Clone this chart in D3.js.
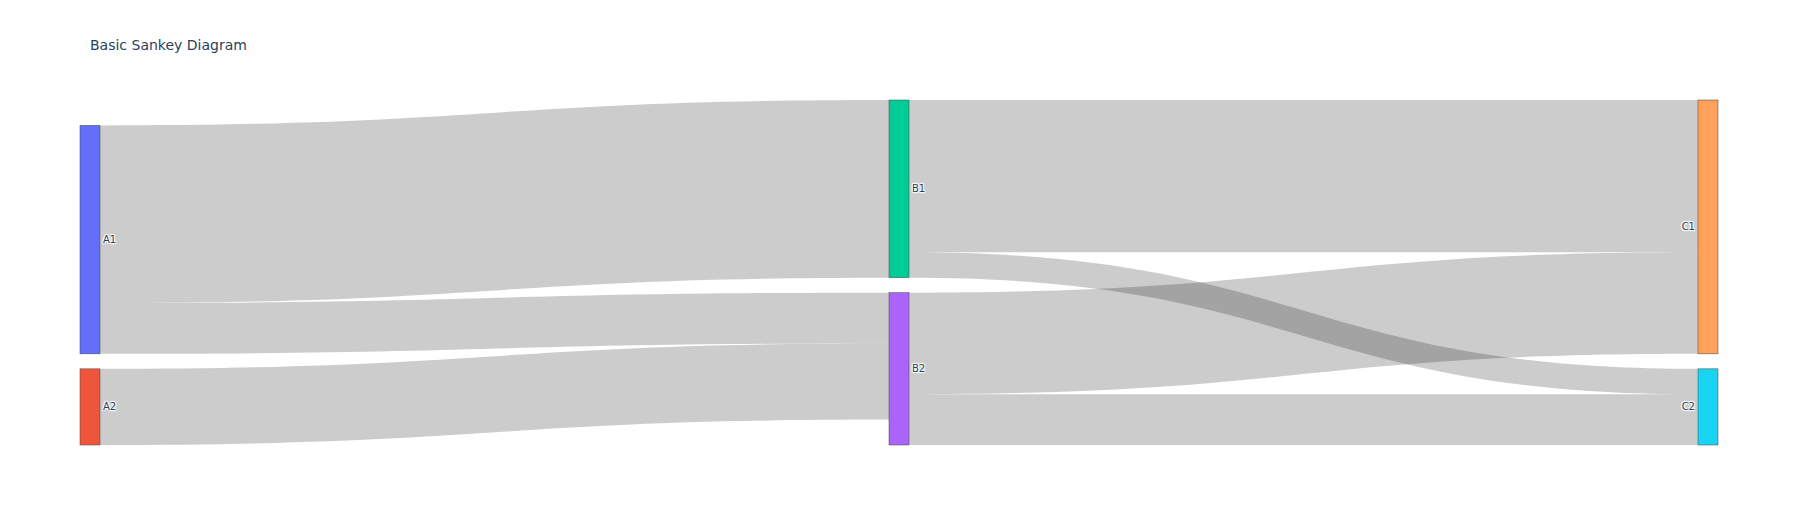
<!DOCTYPE html>
<html>
<head>
<meta charset="utf-8">
<script src="https://cdn.jsdelivr.net/npm/d3@7"></script>
<style>
  html, body { margin: 0; padding: 0; background: #fff; }
  svg text.node-label {
    text-shadow: 1px 1px 1px #fff, -1px -1px 1px #fff, 1px -1px 1px #fff, -1px 1px 1px #fff;
  }
</style>
</head>
<body>
<div id="chart"></div>
<script>
// ---- data ----
const title = "Basic Sankey Diagram";
const nodeNames = ["A1", "A2", "B1", "B2", "C1", "C2"];
const nodeColors = ["#636efa", "#EF553B", "#00cc96", "#ab63fa", "#FFA15A", "#19d3f3"];
const linkSources = ["A1", "A1", "A2", "B1", "B1", "B2", "B2"];
const linkTargets = ["B1", "B2", "B2", "C1", "C2", "C1", "C2"];
const linkValues = [7, 2, 3, 6, 1, 4, 2];

// ---- layout settings ----
const W = 1798, H = 525;
const margin = { l: 80, r: 80, t: 100, b: 80 };
const nodeWidth = 20, nodePad = 15;
const plotW = W - margin.l - margin.r, plotH = H - margin.t - margin.b;

const svg = d3.select("#chart").append("svg")
  .attr("width", W).attr("height", H)
  .style("font-family", "'DejaVu Sans', Verdana, sans-serif");

// build graph
const nodes = nodeNames.map((name, i) => ({ name, color: nodeColors[i], in: [], out: [] }));
const byName = new Map(nodes.map(n => [n.name, n]));
const links = linkValues.map((v, i) => {
  const l = { source: byName.get(linkSources[i]), target: byName.get(linkTargets[i]), value: v };
  l.source.out.push(l); l.target.in.push(l);
  return l;
});
nodes.forEach(n => {
  n.value = Math.max(d3.sum(n.in, l => l.value), d3.sum(n.out, l => l.value));
});
// depth via longest path
function depth(n) { return n.in.length ? 1 + d3.max(n.in, l => depth(l.source)) : 0; }
nodes.forEach(n => n.depth = depth(n));
const maxDepth = d3.max(nodes, n => n.depth);
const columns = d3.range(maxDepth + 1).map(d => nodes.filter(n => n.depth === d));

const x = d3.scaleLinear().domain([0, maxDepth]).range([margin.l, W - margin.r - nodeWidth]);
const ky = d3.min(columns, c => (plotH - (c.length - 1) * nodePad) / d3.sum(c, n => n.value));
const yv = d3.scaleLinear().domain([0, 1]).range([0, ky]);

columns.forEach(col => {
  const total = d3.sum(col, n => yv(n.value)) + (col.length - 1) * nodePad;
  let y = margin.t + plotH - total; // bottom aligned
  col.forEach(n => {
    n.x0 = x(n.depth); n.x1 = n.x0 + nodeWidth;
    n.y0 = y; n.y1 = y + yv(n.value);
    y = n.y1 + nodePad;
  });
});
nodes.forEach(n => {
  n.out.sort((a, b) => a.target.y0 - b.target.y0);
  n.in.sort((a, b) => a.source.y0 - b.source.y0);
  let y = n.y0;
  n.out.forEach(l => { l.width = yv(l.value); l.ys = y; y += l.width; });
  y = n.y0;
  n.in.forEach(l => { l.yt = y; y += l.width || yv(l.value); });
});

// ---- title ----
svg.append("text")
  .attr("x", 90).attr("y", 50)
  .attr("fill", "#2a3f5f")
  .style("font-size", "14px")
  .text(title);

// ---- links ----
function linkPath(l) {
  const x0 = l.source.x1, x1 = l.target.x0;
  const xi = d3.interpolateNumber(x0, x1);
  const x2 = xi(0.5), x3 = xi(0.5);
  const y0a = l.ys, y0b = l.ys + l.width, y1a = l.yt, y1b = l.yt + l.width;
  return `M${x0},${y0a}C${x2},${y0a} ${x3},${y1a} ${x1},${y1a}L${x1},${y1b}C${x3},${y1b} ${x2},${y0b} ${x0},${y0b}Z`;
}
svg.append("g").selectAll("path").data(links).join("path")
  .attr("d", linkPath)
  .attr("fill", "rgba(0,0,0,0.2)");

// ---- nodes ----
const ng = svg.append("g").selectAll("g").data(nodes).join("g");
ng.append("rect")
  .attr("x", d => d.x0).attr("y", d => d.y0)
  .attr("width", nodeWidth).attr("height", d => d.y1 - d.y0)
  .attr("fill", d => d.color)
  .attr("stroke", "#444").attr("stroke-width", 0.5).attr("stroke-opacity", 1);
ng.append("text")
  .attr("class", "node-label")
  .attr("x", d => d.depth === maxDepth ? d.x0 - 3 : d.x1 + 3)
  .attr("y", d => (d.y0 + d.y1) / 2)
  .attr("dy", "0.35em")
  .attr("text-anchor", d => d.depth === maxDepth ? "end" : "start")
  .attr("fill", "#2a3f5f")
  .style("font-size", "10px")
  .text(d => d.name);
</script>
</body>
</html>
